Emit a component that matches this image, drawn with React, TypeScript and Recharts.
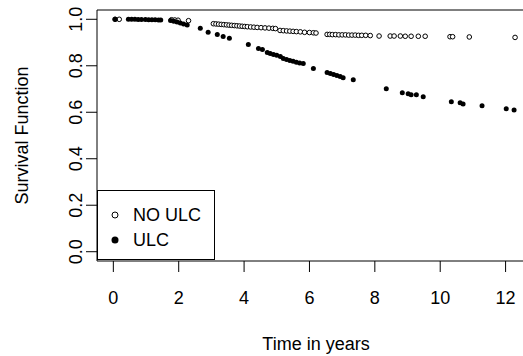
import { ScatterChart, Scatter, XAxis, YAxis, ReferenceArea, Legend } from 'recharts';

const FONT = '"Liberation Sans", Arial, sans-serif';

// NO ULC group (open circles)
const noUlcTime = [
  0.05, 0.18, 1.78, 1.88, 1.98, 2.3,
  3.06, 3.14, 3.22, 3.3, 3.38, 3.46, 3.54, 3.62, 3.7, 3.78, 3.86, 3.94, 4.02, 4.1, 4.2, 4.3, 4.4, 4.52, 4.64, 4.76, 4.88, 4.96,
  5.1, 5.2, 5.3, 5.4, 5.5, 5.6, 5.72, 5.85, 6.0, 6.12, 6.2,
  6.54, 6.62, 6.7, 6.8, 6.9, 7.0, 7.1, 7.2, 7.3, 7.4, 7.5, 7.6, 7.72, 7.86,
  8.13, 8.47, 8.59, 8.78, 8.93, 9.11, 9.33, 9.54, 10.3, 10.38, 10.89, 12.29,
];
const noUlcSurv = [
  1.0, 1.0, 0.998, 0.997, 0.996, 0.994,
  0.981, 0.98, 0.979, 0.978, 0.977, 0.976, 0.975, 0.974, 0.973, 0.972, 0.971, 0.97, 0.969, 0.968, 0.967, 0.966, 0.965, 0.964, 0.963, 0.962, 0.961, 0.96,
  0.952, 0.951, 0.95, 0.949, 0.948, 0.947, 0.946, 0.944, 0.943, 0.942, 0.941,
  0.935, 0.935, 0.934, 0.934, 0.933, 0.933, 0.933, 0.932, 0.932, 0.932, 0.931, 0.931, 0.931, 0.93,
  0.928, 0.928, 0.928, 0.928, 0.927, 0.927, 0.927, 0.927, 0.925, 0.925, 0.924, 0.922,
];

// ULC group (filled circles)
const ulcTime = [
  0.06, 0.46, 0.56, 0.66, 0.76, 0.86, 0.98, 1.08, 1.18, 1.28, 1.38, 1.45,
  1.75, 1.85, 1.95, 2.05, 2.15, 2.26,
  2.66, 2.9, 3.18, 3.36, 3.55,
  4.13, 4.44, 4.56, 4.71, 4.8, 4.9, 5.0, 5.11, 5.2, 5.3, 5.4, 5.5, 5.6, 5.7, 5.81,
  6.12, 6.54, 6.64, 6.74, 6.84, 6.94, 7.03, 7.34,
  8.35, 8.84, 9.02, 9.11, 9.27, 9.48, 10.34, 10.61, 10.7, 11.28, 12.02, 12.26,
];
const ulcSurv = [
  1.0, 1.0, 1.0, 1.0, 0.999, 0.999, 0.999, 0.998, 0.998, 0.998, 0.997, 0.997,
  0.995, 0.992, 0.988, 0.984, 0.98, 0.975,
  0.961, 0.944, 0.935, 0.926, 0.918,
  0.892, 0.874, 0.87, 0.857, 0.853, 0.849, 0.845, 0.84, 0.831, 0.827, 0.823, 0.819, 0.815, 0.812, 0.81,
  0.788, 0.771, 0.767, 0.763, 0.758, 0.754, 0.749, 0.74,
  0.701, 0.684, 0.68, 0.675, 0.675, 0.667, 0.645, 0.641, 0.636, 0.628, 0.615, 0.61,
];

const xTicks = [0, 2, 4, 6, 8, 10, 12];
const yTicks = [0, 0.2, 0.4, 0.6, 0.8, 1.0];

const noUlcData = noUlcTime.map((t, i) => ({ t, s: noUlcSurv[i] }));
const ulcData = ulcTime.map((t, i) => ({ t, s: ulcSurv[i] }));

const OpenDot = (p: any) => <circle cx={p.cx} cy={p.cy} r={2.3} fill="#fff" stroke="#000" strokeWidth={1} />;
const FilledDot = (p: any) => <circle cx={p.cx} cy={p.cy} r={2.5} fill="#000" />;

const XTick = (p: any) => (
  <text x={p.x} y={p.y} dy={30} textAnchor="middle" fontSize={18} fontFamily={FONT} fill="#000">
    {p.payload.value}
  </text>
);

const YTick = (p: any) => {
  const x = p.x - 2;
  return (
    <text x={x} y={p.y} transform={`rotate(-90, ${x}, ${p.y})`} textAnchor="middle" fontSize={18} fontFamily={FONT} fill="#000">
      {p.payload.value.toFixed(1)}
    </text>
  );
};

function LegendBox() {
  return (
    <div
      style={{
        width: 118,
        height: 70,
        boxSizing: 'border-box',
        border: '1px solid #000',
        background: '#fff',
        fontFamily: FONT,
        fontSize: 18,
        color: '#000',
        position: 'relative',
      }}
    >
      <svg width={30} height={70} style={{ position: 'absolute', left: 0, top: 0 }}>
        <circle cx={17} cy={24} r={3} fill="#fff" stroke="#000" strokeWidth={1} />
        <circle cx={17} cy={49} r={3.5} fill="#000" />
      </svg>
      <div style={{ position: 'absolute', left: 35, top: 12, lineHeight: '24px' }}>NO ULC</div>
      <div style={{ position: 'absolute', left: 35, top: 37, lineHeight: '24px' }}>ULC</div>
    </div>
  );
}

export default function App() {
  return (
    <div style={{ position: 'absolute', left: 0, top: 0, width: 523, height: 356, overflow: 'hidden', background: '#fff' }}>
      <ScatterChart width={535} height={356} margin={{ top: 10, right: 0, bottom: 0, left: 0 }}>
        <XAxis
          type="number"
          dataKey="t"
          domain={[-0.5, 12.9]}
          ticks={xTicks}
          allowDataOverflow
          height={95}
          axisLine={false}
          tickSize={11}
          tickLine={{ stroke: '#000' }}
          tick={XTick}
          label={{
            content: (props: any) => {
              const vb = props.viewBox;
              return (
                <text x={316} y={vb.y + vb.height - 6} textAnchor="middle" fontSize={18} fontFamily={FONT} fill="#000">
                  Time in years
                </text>
              );
            },
          }}
        />
        <YAxis
          type="number"
          dataKey="s"
          domain={[-0.04, 1.04]}
          ticks={yTicks}
          allowDataOverflow
          width={97}
          axisLine={false}
          tickSize={11}
          tickLine={{ stroke: '#000' }}
          tick={YTick}
          label={{
            content: (props: any) => {
              const vb = props.viewBox;
              const cy = vb.y + vb.height / 2;
              return (
                <text x={28} y={cy} transform={`rotate(-90, 28, ${cy})`} textAnchor="middle" fontSize={18} fontFamily={FONT} fill="#000">
                  Survival Function
                </text>
              );
            },
          }}
        />
        <ReferenceArea x1={-0.5} x2={12.9} y1={-0.04} y2={1.04} fill="none" stroke="#000" strokeWidth={1} fillOpacity={0} />
        <Scatter name="NO ULC" data={noUlcData} shape={OpenDot} isAnimationActive={false} />
        <Scatter name="ULC" data={ulcData} shape={FilledDot} isAnimationActive={false} />
        <Legend
          layout="vertical"
          align="center"
          verticalAlign="middle"
          content={() => <LegendBox />}
          wrapperStyle={{ position: 'absolute', left: 97, top: 190, width: 118, height: 70, margin: 0 }}
        />
      </ScatterChart>
    </div>
  );
}
